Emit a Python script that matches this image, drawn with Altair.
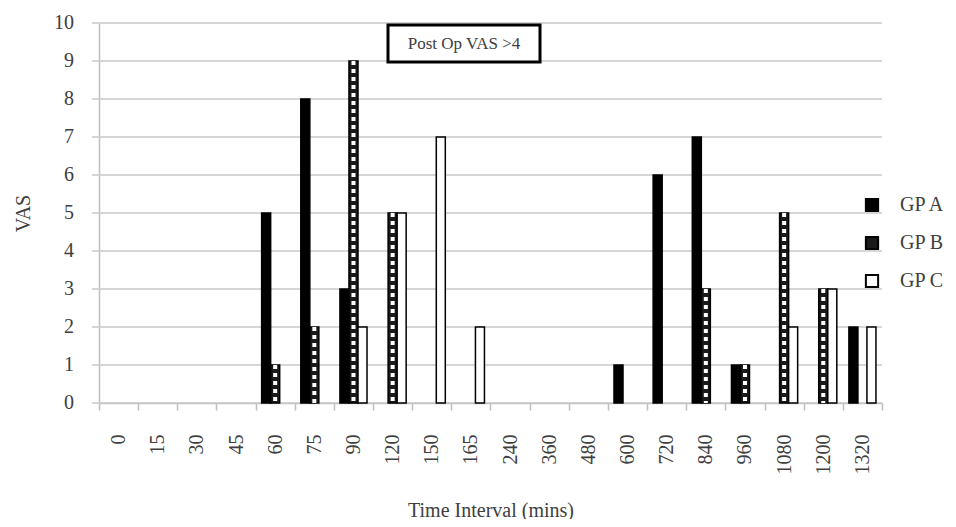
import altair as alt
import pandas as pd

categories = ["0", "15", "30", "45", "60", "75", "90", "120", "150", "165",
              "240", "360", "480", "600", "720", "840", "960", "1080", "1200", "1320"]
series = ["GP A", "GP B", "GP C"]
gp_a = [0, 0, 0, 0, 5, 8, 3, 0, 0, 0, 0, 0, 0, 1, 6, 7, 1, 0, 0, 2]
gp_b = [0, 0, 0, 0, 1, 2, 9, 5, 0, 0, 0, 0, 0, 0, 0, 3, 1, 5, 3, 0]
gp_c = [0, 0, 0, 0, 0, 0, 2, 5, 7, 2, 0, 0, 0, 0, 0, 0, 0, 2, 3, 2]
y_ticks = [0, 1, 2, 3, 4, 5, 6, 7, 8, 9, 10]
title_text = "Post Op VAS >4"
x_title = "Time Interval (mins)"
y_title = "VAS"

rows = []
for s, vals in zip(series, [gp_a, gp_b, gp_c]):
    for c, v in zip(categories, vals):
        if v > 0:
            rows.append({"time": c, "group": s, "vas": v})
df = pd.DataFrame(rows)
ticks_df = pd.DataFrame({"vas": y_ticks, "label": [str(v) for v in y_ticks]})

FONT = "Liberation Serif"
TXT = "#404040"
GRID = "#c8c8c8"
AX = "#bfbfbf"

x_enc = alt.X(
    "time:N", sort=categories,
    scale=alt.Scale(domain=categories, paddingInner=0, paddingOuter=0),
    axis=alt.Axis(title=x_title, labelAngle=270, tickBand="extent", tickSize=7,
                  labelPadding=24, titlePadding=26, grid=False, labelAlign="right",
                  labelBaseline="middle", labelFont=FONT, titleFont=FONT,
                  labelFontSize=20, titleFontSize=20, labelColor=TXT, titleColor=TXT,
                  titleFontWeight="normal", domainColor=AX, tickColor=AX,
                  domainWidth=1.5, tickWidth=1.5),
)
xoff = alt.XOffset("group:N", scale=alt.Scale(domain=series, paddingOuter=0.67, paddingInner=0))
y_scale = alt.Scale(domain=[0, 10], nice=False)
y_enc = alt.Y(
    "vas:Q", scale=y_scale,
    axis=alt.Axis(title=y_title, labels=False, ticks=False, grid=False, titlePadding=66,
                  titleFont=FONT, titleFontSize=20, titleColor=TXT, titleFontWeight="normal",
                  domainColor=AX, domainWidth=1.5),
)

grid = alt.Chart(ticks_df).mark_rule(color=GRID, strokeWidth=1.5).encode(
    y=alt.Y("vas:Q", scale=y_scale), x=alt.value(-7), x2=alt.value(783)
)
ylabels = alt.Chart(ticks_df).mark_text(
    font=FONT, fontSize=20, color=TXT, align="right", baseline="middle", dx=-25
).encode(y=alt.Y("vas:Q", scale=y_scale), x=alt.value(0), text="label:N")

bars = alt.Chart(df).mark_bar(stroke="black", strokeWidth=1.5).encode(
    x=x_enc, xOffset=xoff, y=y_enc,
    fill=alt.Fill("group:N", scale=alt.Scale(domain=series, range=["#000000", "#1a1a1a", "#ffffff"]),
                  legend=alt.Legend(title=None, orient="none", legendX=763, legendY=172,
                                    symbolType="square", symbolSize=150, symbolStrokeColor="black",
                                    symbolStrokeWidth=2, labelFontSize=20, labelFont=FONT,
                                    labelColor=TXT, rowPadding=16, labelOffset=18)),
)

pattern = alt.Chart(df[df["group"] == "GP B"]).mark_rule(
    color="white", strokeWidth=4, strokeDash=[4, 4]
).encode(
    x=x_enc, xOffset=xoff, y=y_enc, y2=alt.datum(0),
)

tdf = pd.DataFrame({"t": [title_text]})
box = alt.Chart(tdf).mark_rect(fill="white", stroke="black", strokeWidth=3).encode(
    x=alt.value(289), x2=alt.value(441), y=alt.value(2), y2=alt.value(39)
)
ttext = alt.Chart(tdf).mark_text(font=FONT, fontSize=17, color=TXT, baseline="middle").encode(
    x=alt.value(365), y=alt.value(21), text="t:N"
)

chart = alt.layer(grid, ylabels, bars, pattern, box, ttext).properties(
    width=783, height=380,
    autosize=alt.AutoSizeParams(type="none"),
    padding={"left": 91, "top": 15, "right": 66, "bottom": 116},
).configure_view(stroke=None)

chart.save("out.html", embed_options={"renderer": "svg", "actions": False})
